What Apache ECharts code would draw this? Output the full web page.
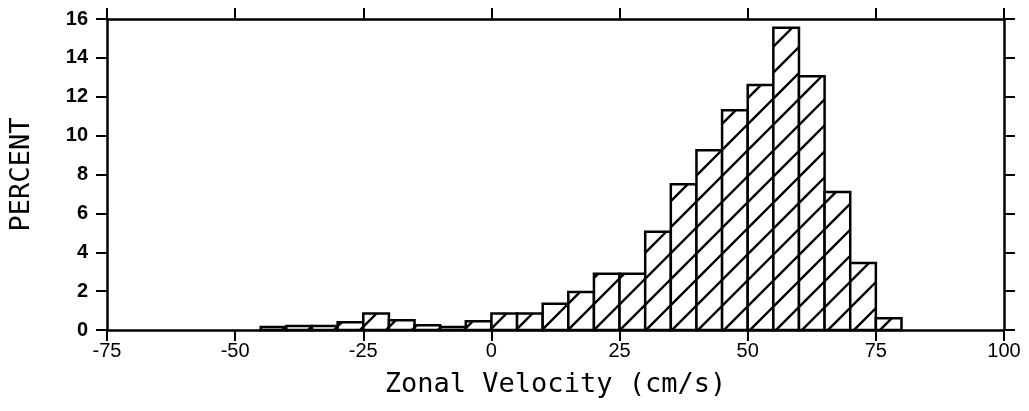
<!DOCTYPE html>
<html>
<head>
<meta charset="utf-8">
<script src="https://cdn.jsdelivr.net/npm/echarts@6/dist/echarts.min.js"></script>
<style>
  html, body { margin: 0; padding: 0; background: #fff; }
  #chart { width: 1029px; height: 411px; }
</style>
</head>
<body>
<div id="chart"></div>
<script>
// Histogram of zonal velocity: bin edges (cm/s) and percentage in each bin
const binEdges = [-45, -40, -35, -30, -25, -20, -15, -10, -5, 0, 5, 10, 15, 20, 25,
                  30, 35, 40, 45, 50, 55, 60, 65, 70, 75, 80];
const percent = [0.15, 0.2, 0.2, 0.4, 0.85, 0.5, 0.25, 0.15, 0.45, 0.85, 0.85, 1.35, 1.95, 2.9, 2.9,
                 5.05, 7.5, 9.25, 11.3, 12.6, 15.55, 13.05, 7.1, 3.45, 0.6];
const xTicks = [-75, -50, -25, 0, 25, 50, 75, 100];
const yTicks = [0, 2, 4, 6, 8, 10, 12, 14, 16];

// diagonal "/" hatch tile
function hatchTile() {
  const s = 26;
  const c = document.createElement('canvas');
  c.width = s; c.height = s;
  const g = c.getContext('2d');
  g.fillStyle = '#fff';
  g.fillRect(0, 0, s, s);
  g.strokeStyle = '#000';
  g.lineWidth = 2.3;
  g.beginPath();
  g.moveTo(-2, 16); g.lineTo(16, -2);
  g.moveTo(12, 28); g.lineTo(28, 12);
  g.stroke();
  return c;
}
const hatch = { image: hatchTile(), repeat: 'repeat' };

const bins = percent.map((v, i) => [binEdges[i], binEdges[i + 1], v]);

const axisLine = { show: true, onZero: false, lineStyle: { color: '#000', width: 2.5 } };
const axisTick = { show: true, length: 11, lineStyle: { color: '#000', width: 2 } };

const chart = echarts.init(document.getElementById('chart'), null, { renderer: 'canvas' });
chart.setOption({
  animation: false,
  backgroundColor: '#fff',
  grid: { left: 106, right: 25, top: 19, bottom: 81 },
  xAxis: [{
    type: 'value', position: 'bottom',
    min: xTicks[0], max: xTicks[xTicks.length - 1], interval: 25,
    axisLine, axisTick, splitLine: { show: false },
    axisLabel: { color: '#000', fontFamily: 'Liberation Sans', fontSize: 20, margin: 11 },
    name: 'Zonal Velocity (cm/s)', nameLocation: 'middle', nameGap: 41,
    nameTextStyle: { color: '#000', fontFamily: 'DejaVu Sans Mono', fontSize: 27 }
  }, {
    type: 'value', position: 'top',
    min: xTicks[0], max: xTicks[xTicks.length - 1], interval: 25,
    axisLine, axisTick, splitLine: { show: false }, axisLabel: { show: false }
  }],
  yAxis: [{
    type: 'value', position: 'left',
    min: yTicks[0], max: yTicks[yTicks.length - 1], interval: 2,
    axisLine, axisTick, splitLine: { show: false },
    axisLabel: { color: '#000', fontFamily: 'Liberation Sans', fontWeight: 'bold', fontSize: 20, margin: 19 },
    name: 'PERCENT', nameLocation: 'middle', nameGap: 72, nameRotate: 90,
    nameTextStyle: { color: '#000', fontFamily: 'DejaVu Sans Mono', fontSize: 27 }
  }, {
    type: 'value', position: 'right',
    min: yTicks[0], max: yTicks[yTicks.length - 1], interval: 2,
    axisLine, axisTick, splitLine: { show: false }, axisLabel: { show: false }
  }],
  series: [{
    type: 'custom',
    xAxisIndex: 0, yAxisIndex: 0,
    data: bins,
    renderItem(params, api) {
      const p0 = api.coord([api.value(0), 0]);
      const p1 = api.coord([api.value(1), api.value(2)]);
      return {
        type: 'rect',
        shape: { x: p0[0], y: p1[1], width: p1[0] - p0[0], height: p0[1] - p1[1] },
        style: { fill: hatch, stroke: '#000', lineWidth: 2.5 }
      };
    }
  }]
});
</script>
</body>
</html>
